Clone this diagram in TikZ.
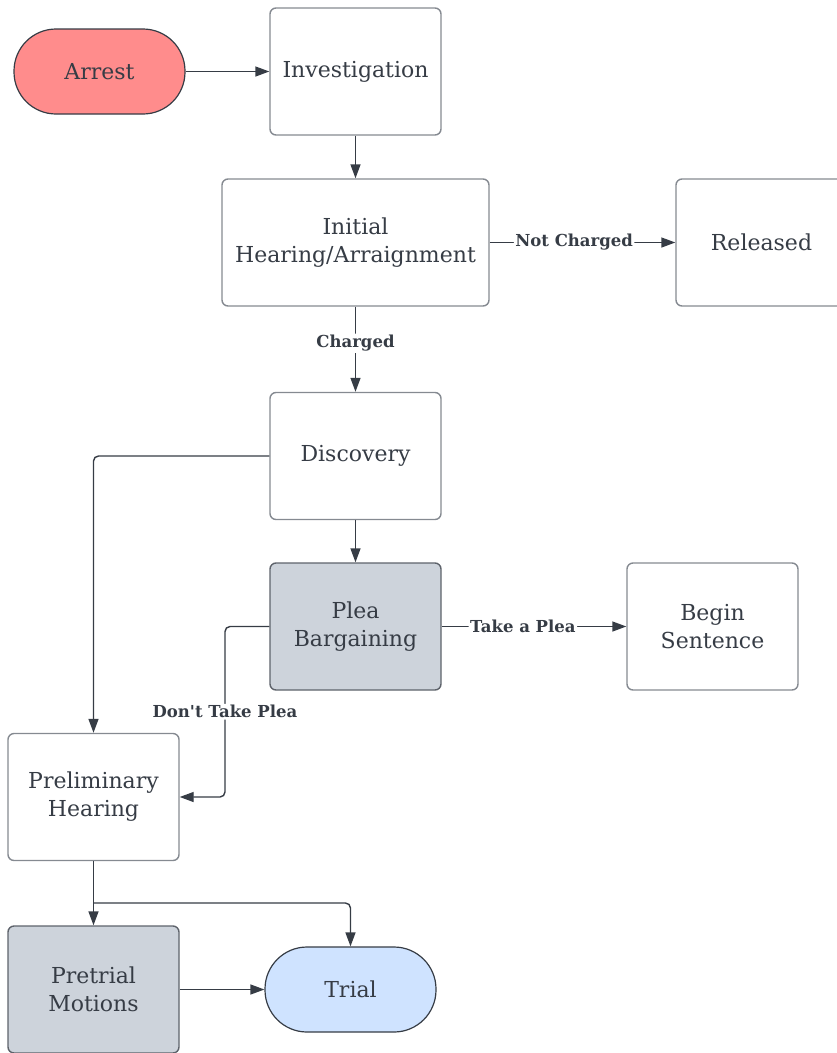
\documentclass[tikz,border=0pt]{standalone}
\usepackage{fontspec}
\setmainfont{DejaVu Serif}[Ligatures=TeXOff]
\usetikzlibrary{arrows.meta}
\definecolor{txt}{HTML}{363C45}
\definecolor{boxgray}{HTML}{858A91}
\definecolor{darkedge}{HTML}{5E636B}
\definecolor{arrestfill}{HTML}{FF8C8C}
\definecolor{trialfill}{HTML}{CFE3FF}
\definecolor{grayfill}{HTML}{CDD3DB}
\begin{document}
\begin{tikzpicture}[x=1pt,y=-1pt,
  box/.style={draw=boxgray, line width=1.4pt, rounded corners=6pt, minimum width=171pt, minimum height=127pt, align=center, text=txt, font=\fontsize{22}{28}\selectfont, inner sep=0pt},
  graybox/.style={box, fill=grayfill, draw=darkedge},
  pill/.style={draw=txt, line width=1.2pt, rounded corners=42pt, minimum width=171pt, minimum height=85pt, align=center, text=txt, font=\fontsize{22}{28}\selectfont, inner sep=0pt},
  conn/.style={draw=txt, line width=1.4pt, -{Triangle[length=14pt,width=10pt]}, rounded corners=5pt},
  lbl/.style={fill=white, text=txt, font=\bfseries\fontsize{16.5}{19}\selectfont, inner sep=1.5pt}
]
\useasboundingbox (0,0) rectangle (837,1053);
\clip (0,0) rectangle (837,1053);
\node[pill, fill=arrestfill] (arrest) at (99.5,71.5) {Arrest};
\node[box] (invest) at (355.5,71.5) {Investigation};
\node[box, minimum width=267pt] (initial) at (355.5,242.5) {Initial\\Hearing/Arraignment};
\node[box] (released) at (761.5,242.5) {Released};
\node[box] (discovery) at (355.5,456) {Discovery};
\node[graybox] (plea) at (355.5,626.5) {Plea\\Bargaining};
\node[box] (sentence) at (712.5,626.5) {Begin\\Sentence};
\node[box] (prelim) at (93.5,797) {Preliminary\\Hearing};
\node[graybox] (pretrial) at (93.5,989.5) {Pretrial\\Motions};
\node[pill, fill=trialfill] (trial) at (350.5,989.5) {Trial};
\coordinate (junction) at (93.5,903);

\draw[conn] (arrest) -- (invest);
\draw[conn] (invest) -- (initial);
\draw[conn] (initial) -- node[lbl, pos=0.455] {Not Charged} (released);
\draw[conn] (initial) -- node[lbl, pos=0.43] {Charged} (discovery);
\draw[conn] (discovery) -- (plea);
\draw[conn] (discovery.west) -| (prelim.north);
\draw[conn] (plea) -- node[lbl, pos=0.44] {Take a Plea} (sentence);
\draw[conn] (plea.west) -- (225,626.5) -- node[lbl, pos=0.5] {Don't Take Plea} (225,797) -- (prelim.east);
\draw[conn] (prelim.south) -- (pretrial.north);
\draw[conn] (junction) -| (trial.north);
\draw[conn] (pretrial) -- (trial);
\end{tikzpicture}
\end{document}
